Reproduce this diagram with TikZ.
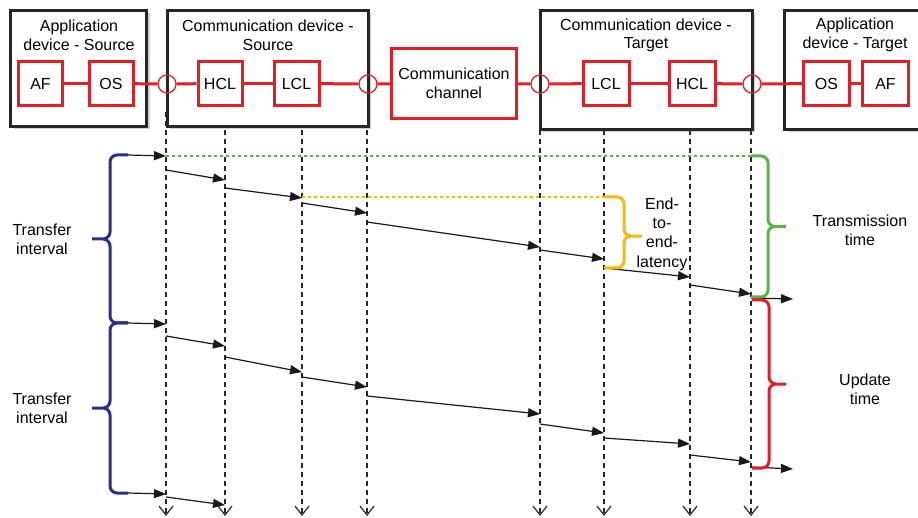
\documentclass[tikz,border=0pt]{standalone}
\usepackage{fontspec}
\setmainfont{Liberation Sans}
\usetikzlibrary{arrows.meta, positioning, calc, shadows}
\definecolor{devred}{RGB}{228,30,38}
\definecolor{navybrace}{RGB}{45,45,140}
\definecolor{greenbrace}{RGB}{90,180,75}
\definecolor{amberbrace}{RGB}{250,185,10}
\tikzset{
  devbox/.style={rectangle,draw=black!85,line width=3pt,fill=white,
    drop shadow={shadow xshift=3pt,shadow yshift=-3pt,opacity=0.3,fill=black!60}},
  layerbox/.style={rectangle,draw=devred,line width=3pt,fill=white,inner sep=0pt,
    minimum width=44pt,minimum height=44pt},
  chanbox/.style={rectangle,draw=devred,line width=3pt,fill=white,align=center,
    minimum width=125pt,minimum height=70pt},
  port/.style={circle,draw=devred,line width=1.3pt,minimum size=18pt,inner sep=0pt},
  redlink/.style={draw=devred,line width=3pt},
  titletext/.style={align=center,inner sep=0pt,font=\fontsize{16}{18.5}\selectfont},
  lifeline/.style={draw=black!85,line width=1.1pt,dash pattern=on 5pt off 4pt,
    -{Straight Barb[length=9pt,width=14pt,line width=1.2pt]}},
  msg/.style={draw=black!90,line width=1.2pt,-{Triangle[length=12pt,width=9pt]}},
  dotline/.style={line width=2.5pt,dash pattern=on 2.5pt off 3.5pt},
  bracepath/.style={line width=3pt,rounded corners=7pt},
  annot/.style={align=center,inner sep=0pt}
}

\begin{document}
\begin{tikzpicture}[x=1pt,y=-1pt,every node/.style={font=\fontsize{16}{19}\selectfont}]
  \useasboundingbox (0,0) rectangle (918,518);

  %% Lifelines
  \coordinate (ifA) at (166,112);
  \coordinate (hclS) at (225,112);
  \coordinate (lclS) at (302,112);
  \coordinate (ifB) at (367,112);
  \coordinate (ifC) at (540,112);
  \coordinate (lclT) at (604,112);
  \coordinate (hclT) at (690,112);
  \coordinate (ifD) at (751,112);
  \foreach \ll in {ifA,hclS,lclS,ifB,ifC,lclT,hclT,ifD}
    \draw[lifeline] (\ll) -- (\ll |- 0,516);

  %% Devices
  \node[devbox,minimum width=136pt,minimum height=116pt] (appS) at (78.5,68.5) {};
  \node[devbox,minimum width=201pt,minimum height=116pt] (commS) at (267.5,68.5) {};
  \node[chanbox] (chan) at (454,83.5) {Communication\\channel};
  \node[devbox,minimum width=212pt,minimum height=119pt] (commT) at (646,70) {};
  \node[devbox,minimum width=143pt,minimum height=119pt] (appT) at (856,70) {};

  \node[titletext] (appSname) at (79,35.5) {Application\\device - Source};
  \node[titletext] (commSname) at (268,35.5) {Communication device -\\Source};
  \node[titletext] (commTname) at (646,35.5) {Communication device -\\Target};
  \node[titletext] (appTname) at (855,35) {Application\\device - Target};

  %% Layers
  \node[layerbox] (afS) at (40.5,83.5) {AF};
  \node[layerbox] (osS) at (111,83.5) {OS};
  \node[layerbox] (hclSbox) at (220,83.5) {HCL};
  \node[layerbox,minimum width=45pt] (lclSbox) at (296.5,83.5) {LCL};
  \node[layerbox,minimum width=46pt] (lclTbox) at (606,83.5) {LCL};
  \node[layerbox,minimum width=46pt] (hclTbox) at (692,83.5) {HCL};
  \node[layerbox,minimum width=46pt] (osT) at (826.5,83.5) {OS};
  \node[layerbox,minimum width=46pt] (afT) at (885.5,83.5) {AF};

  \node[port] (portA) at (167,84) {};
  \node[port] (portB) at (368,84) {};
  \node[port] (portC) at (540,84) {};
  \node[port] (portD) at (752,84) {};

  \draw[redlink] (afS) -- (osS);
  \draw[redlink] (osS) -- (portA);
  \draw[redlink] (portA) -- (hclSbox);
  \draw[redlink] (hclSbox) -- (lclSbox);
  \draw[redlink] (lclSbox) -- (portB);
  \draw[redlink] (portB) -- (chan);
  \draw[redlink] (chan) -- (portC);
  \draw[redlink] (portC) -- (lclTbox);
  \draw[redlink] (lclTbox) -- (hclTbox);
  \draw[redlink] (hclTbox) -- (portD);
  \draw[redlink] (portD) -- (osT);
  \draw[redlink] (osT) -- (afT);

  %% Dotted markers
  \coordinate (txTop) at (ifD |- 0,156);
  \coordinate (txBot) at (ifD |- 0,297);
  \coordinate (e2eTop) at (lclT |- 0,197);
  \coordinate (e2eBot) at (lclT |- 0,268);
  \coordinate (updTop) at (752,300);
  \coordinate (updBot) at (752,468);
  \draw[dotline,greenbrace] (ifA |- 0,156) -- (txTop);
  \draw[dotline,amberbrace] (lclS |- 0,197) -- (e2eTop);

  %% Messages
  \coordinate (cyc1) at (128,155);
  \coordinate (cyc2) at (128,323);
  \coordinate (cyc3) at (128,493);
  \coordinate (out1) at (793,299);
  \coordinate (out2) at (793,469);

  \draw[msg] (cyc1) -- (ifA |- 0,156);
  \draw[msg] (cyc2) -- (ifA |- 0,324);
  \draw[msg] (cyc3) -- (ifA |- 0,494);
  \foreach \a/\ya/\b/\yb in {ifA/170/hclS/180, hclS/188/lclS/198, lclS/203/ifB/213,
      ifB/222/ifC/247, ifC/250/lclT/259, lclT/268/hclT/277, hclT/285/ifD/294,
      ifA/336/hclS/346, hclS/357/lclS/372, lclS/377/ifB/387, ifB/396/ifC/414,
      ifC/424/lclT/433, lclT/438/hclT/444, hclT/455/ifD/462, ifA/497/hclS/505}
    \draw[msg] (\a |- 0,\ya) -- (\b |- 0,\yb);
  \draw[msg] (ifD |- 0,298) -- (out1);
  \draw[msg] (ifD |- 0,467) -- (out2);

  %% Braces
  \draw[bracepath,navybrace]
    (cyc1) -- ++(-18,0) |- ($(cyc1)!0.5!(cyc2)+(-36,0)$)
    (cyc2) -- ++(-18,0) |- ($(cyc1)!0.5!(cyc2)+(-36,0)$);
  \draw[bracepath,navybrace]
    (cyc2) -- ++(-18,0) |- ($(cyc2)!0.5!(cyc3)+(-36,0)$)
    (cyc3) -- ++(-18,0) |- ($(cyc2)!0.5!(cyc3)+(-36,0)$);
  \draw[bracepath,greenbrace]
    (txTop) -- ++(17,0) |- ($(txTop)!0.5!(txBot)+(35,0)$)
    (txBot) -- ++(17,0) |- ($(txTop)!0.5!(txBot)+(35,0)$);
  \draw[bracepath,amberbrace]
    (e2eTop) -- ++(20,0) |- ($(e2eTop)!0.55!(e2eBot)+(38,0)$)
    (e2eBot) -- ++(20,0) |- ($(e2eTop)!0.55!(e2eBot)+(38,0)$);
  \draw[bracepath,devred]
    (updTop) -- ++(17,0) |- ($(updTop)!0.5!(updBot)+(34,0)$)
    (updBot) -- ++(17,0) |- ($(updTop)!0.5!(updBot)+(34,0)$);

  %% Labels
  \node[annot] (tiA) at (42,239) {Transfer\\interval};
  \node[annot] (tiB) at (42,408) {Transfer\\interval};
  \node[annot,font=\fontsize{16}{19.3}\selectfont] (e2e) at (662,234) {End-\\to-\\end-\\latency};
  \node[annot] (tx) at (860,230) {Transmission\\time};
  \node[annot] (upd) at (865,389) {Update\\time};
\end{tikzpicture}
\end{document}
